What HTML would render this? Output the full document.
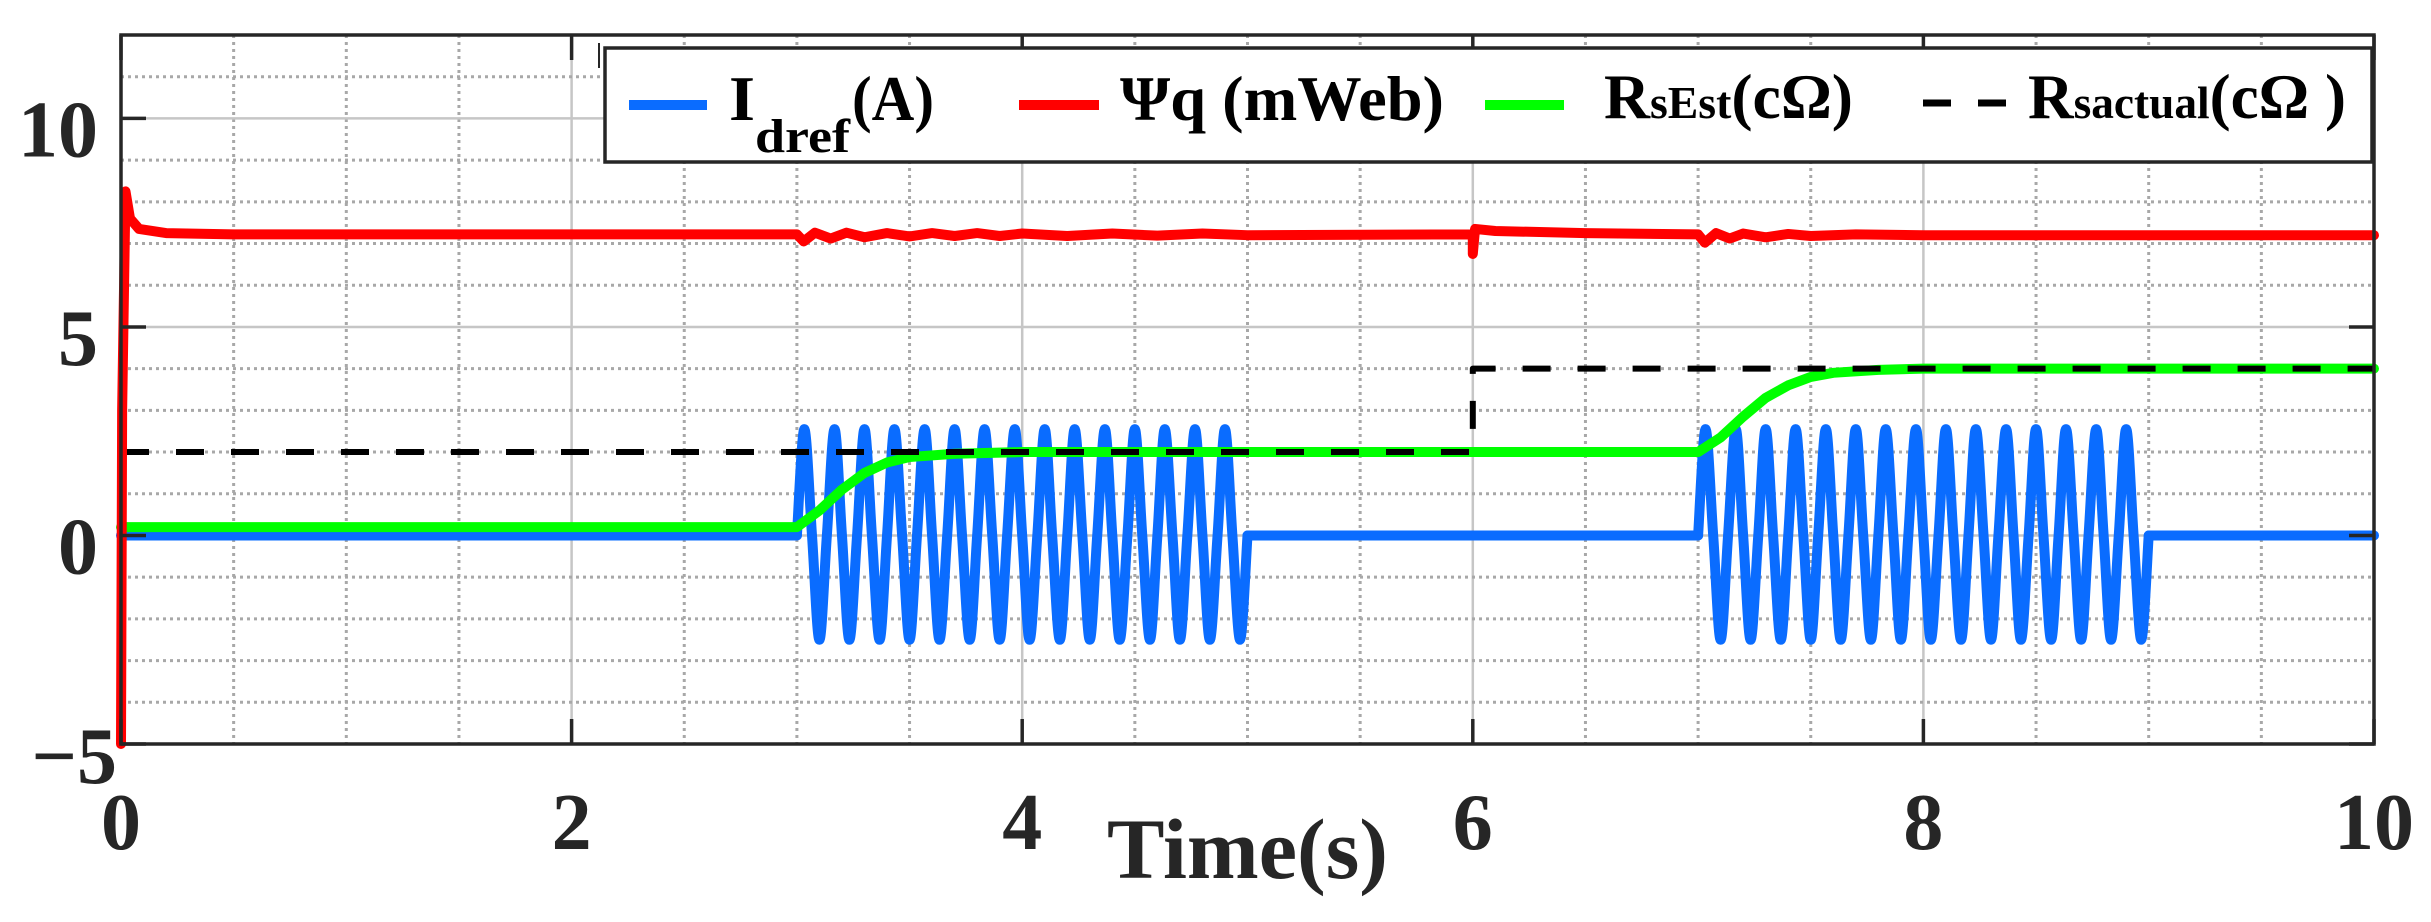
<!DOCTYPE html>
<html><head><meta charset="utf-8"><style>
html,body{margin:0;padding:0;background:#fff;}
svg{display:block;}
</style></head><body>
<svg id="chart" width="2431" height="922" viewBox="0 0 2431 922" xmlns="http://www.w3.org/2000/svg" font-family="'Liberation Serif', serif">
<g id="grid"></g>
<g id="series"></g>
<rect x="121" y="35" width="2253" height="709" fill="none" stroke="#262626" stroke-width="3.5"/>
<g id="ticks"></g>
<g id="labels" font-weight="bold" fill="#262626" font-size="80"></g>
<text x="1107" y="878" font-size="86" font-weight="bold" fill="#262626" textLength="281" lengthAdjust="spacingAndGlyphs">Time(s)</text>
<line x1="599" y1="43" x2="599" y2="68" stroke="#262626" stroke-width="2"/>
<g font-weight="bold" fill="#000">
<rect x="605" y="48" width="1767" height="114" fill="#fff" stroke="#262626" stroke-width="3.5"/>
<line x1="629" y1="105" x2="707" y2="105" stroke="#0a6cff" stroke-width="10"/>
<text x="729" y="120" font-size="64" textLength="26" lengthAdjust="spacingAndGlyphs">I</text>
<text x="755" y="152" font-size="48" textLength="95" lengthAdjust="spacingAndGlyphs">dref</text>
<text x="852" y="120" font-size="64" textLength="82" lengthAdjust="spacingAndGlyphs">(A)</text>
<line x1="1019" y1="105" x2="1099" y2="105" stroke="#ff0000" stroke-width="10"/>
<text x="1120" y="120" font-size="64" textLength="324" lengthAdjust="spacingAndGlyphs">Ψq (mWeb)</text>
<line x1="1485" y1="105" x2="1564" y2="105" stroke="#00ff00" stroke-width="10"/>
<text x="1604" y="118" font-size="64" textLength="249" lengthAdjust="spacingAndGlyphs">R<tspan font-size="46">sEst</tspan>(cΩ)</text>
<line x1="1923" y1="103" x2="2008" y2="103" stroke="#000" stroke-width="7" stroke-dasharray="28 27"/>
<text x="2028" y="118" font-size="64" textLength="318" lengthAdjust="spacingAndGlyphs">R<tspan font-size="46">sactual</tspan>(cΩ )</text>
</g>
</svg>
<script>
const xTicks = [0, 2, 4, 6, 8, 10];
const yTicks = [-5, 0, 5, 10];
const xTickLabels = ["0", "2", "4", "6", "8", "10"];
const yTickLabels = ["\u22125", "0", "5", "10"];
const rsActual = [[0,2],[6,2],[6,4],[10,4]];
const rsEst = [[0,0.2],[3,0.2],[3.1,0.6],[3.2,1.1],[3.3,1.5],[3.4,1.75],[3.5,1.88],[3.7,1.96],[4,2.0],[7,2.0],[7.1,2.35],[7.2,2.85],[7.3,3.3],[7.4,3.6],[7.5,3.8],[7.6,3.9],[7.8,3.97],[8,4],[10,4]];
const psiQ = [[0,-5],[0.005,3],[0.02,8.25],[0.04,7.6],[0.08,7.35],[0.2,7.25],[0.5,7.22],[3,7.22],[3.03,7.05],[3.08,7.26],[3.15,7.12],[3.22,7.26],[3.3,7.15],[3.4,7.25],[3.5,7.17],[3.6,7.25],[3.7,7.18],[3.8,7.25],[3.9,7.18],[4.0,7.24],[4.2,7.18],[4.4,7.24],[4.6,7.19],[4.8,7.24],[5,7.2],[6,7.22],[6.0,6.75],[6.01,7.35],[6.1,7.3],[6.5,7.25],[7,7.22],[7.03,7.02],[7.08,7.25],[7.14,7.12],[7.2,7.24],[7.3,7.15],[7.4,7.23],[7.5,7.18],[7.7,7.22],[8.0,7.2],[10,7.2]];
const idrefFlat1 = [[0,0],[3,0]];
const idrefFlat2 = [[5,0],[7,0]];
const idrefFlat3 = [[9,0],[10,0]];
const idrefBurst1 = [[3.000,0],[3.033,2.55],[3.067,0],[3.100,-2.5],[3.133,0],[3.167,2.55],[3.200,0],[3.233,-2.5],[3.267,0],[3.300,2.55],[3.333,0],[3.367,-2.5],[3.400,0],[3.433,2.55],[3.467,0],[3.500,-2.5],[3.533,0],[3.567,2.55],[3.600,0],[3.633,-2.5],[3.667,0],[3.700,2.55],[3.733,0],[3.767,-2.5],[3.800,0],[3.833,2.55],[3.867,0],[3.900,-2.5],[3.933,0],[3.967,2.55],[4.000,0],[4.033,-2.5],[4.067,0],[4.100,2.55],[4.133,0],[4.167,-2.5],[4.200,0],[4.233,2.55],[4.267,0],[4.300,-2.5],[4.333,0],[4.367,2.55],[4.400,0],[4.433,-2.5],[4.467,0],[4.500,2.55],[4.533,0],[4.567,-2.5],[4.600,0],[4.633,2.55],[4.667,0],[4.700,-2.5],[4.733,0],[4.767,2.55],[4.800,0],[4.833,-2.5],[4.867,0],[4.900,2.55],[4.933,0],[4.967,-2.5],[5.000,0]];
const idrefBurst2 = [[7.000,0],[7.033,2.55],[7.067,0],[7.100,-2.5],[7.133,0],[7.167,2.55],[7.200,0],[7.233,-2.5],[7.267,0],[7.300,2.55],[7.333,0],[7.367,-2.5],[7.400,0],[7.433,2.55],[7.467,0],[7.500,-2.5],[7.533,0],[7.567,2.55],[7.600,0],[7.633,-2.5],[7.667,0],[7.700,2.55],[7.733,0],[7.767,-2.5],[7.800,0],[7.833,2.55],[7.867,0],[7.900,-2.5],[7.933,0],[7.967,2.55],[8.000,0],[8.033,-2.5],[8.067,0],[8.100,2.55],[8.133,0],[8.167,-2.5],[8.200,0],[8.233,2.55],[8.267,0],[8.300,-2.5],[8.333,0],[8.367,2.55],[8.400,0],[8.433,-2.5],[8.467,0],[8.500,2.55],[8.533,0],[8.567,-2.5],[8.600,0],[8.633,2.55],[8.667,0],[8.700,-2.5],[8.733,0],[8.767,2.55],[8.800,0],[8.833,-2.5],[8.867,0],[8.900,2.55],[8.933,0],[8.967,-2.5],[9.000,0]];

const NS = "http://www.w3.org/2000/svg";
const X0 = 121, X1 = 2374, Y0 = 744, Y1 = 35, XMIN = 0, XMAX = 10, YMIN = -5, YMAX = 12;
function sx(t){ return X0 + (t - XMIN) / (XMAX - XMIN) * (X1 - X0); }
function sy(v){ return Y0 - (v - YMIN) / (YMAX - YMIN) * (Y0 - Y1); }
function mk(tag, parent, attrs){ const e = document.createElementNS(NS, tag); for (const k in attrs) e.setAttribute(k, attrs[k]); parent.appendChild(e); return e; }
function linPath(pts){ return pts.map((p,i)=>(i?"L":"M")+sx(p[0]).toFixed(2)+","+sy(p[1]).toFixed(2)).join(""); }
function splinePath(pts){
  const P = pts.map(p=>[sx(p[0]), sy(p[1])]);
  let d = "M"+P[0][0].toFixed(2)+","+P[0][1].toFixed(2);
  for (let i=0;i<P.length-1;i++){
    const p0 = P[Math.max(i-1,0)], p1 = P[i], p2 = P[i+1], p3 = P[Math.min(i+2,P.length-1)];
    const c1 = [p1[0]+(p2[0]-p0[0])/6, p1[1]+(p2[1]-p0[1])/6];
    const c2 = [p2[0]-(p3[0]-p1[0])/6, p2[1]-(p3[1]-p1[1])/6];
    d += "C"+c1[0].toFixed(2)+","+c1[1].toFixed(2)+" "+c2[0].toFixed(2)+","+c2[1].toFixed(2)+" "+p2[0].toFixed(2)+","+p2[1].toFixed(2);
  }
  return d;
}
const grid = document.getElementById("grid");
for (let t = 0.5; t < XMAX; t += 0.5){
  const major = Math.abs(t % 2) < 1e-9;
  const l = mk("line", grid, {x1:sx(t), x2:sx(t), y1:Y1, y2:Y0, stroke: major ? "#c6c6c6" : "#a8a8a8", "stroke-width": major ? 2.5 : 3, "stroke-dasharray": major ? "none" : "3 4"});
  
  
}
for (let v = -4; v <= 11; v += 1){
  const major = (v % 5) === 0;
  const l = mk("line", grid, {x1:X0, x2:X1, y1:sy(v), y2:sy(v), stroke: major ? "#c6c6c6" : "#a8a8a8", "stroke-width": major ? 2.5 : 3, "stroke-dasharray": major ? "none" : "3 4"});
  
  
}
const ser = document.getElementById("series");
function drawSeries(pts, color, w, name, spline, dash){
  const a = {d: spline ? splinePath(pts) : linPath(pts), fill:"none", stroke:color, "stroke-width":w, "stroke-linejoin":"round", "stroke-linecap": dash ? "butt" : "round"};
  if (dash) a["stroke-dasharray"] = dash;
  const p = mk("path", ser, a);
  
  
}
drawSeries(idrefFlat1, "#0a6cff", 10, "idref-line", false);
drawSeries(idrefFlat2, "#0a6cff", 10, "idref-line", false);
drawSeries(idrefFlat3, "#0a6cff", 10, "idref-line", false);
drawSeries(idrefBurst1, "#0a6cff", 10, "idref-oscillation", true);
drawSeries(idrefBurst2, "#0a6cff", 10, "idref-oscillation", true);
drawSeries(rsEst, "#00ff00", 10, "rs-est-line", false);
drawSeries(rsActual, "#000", 6, "rs-actual-line", false, "28 27");
drawSeries(psiQ, "#ff0000", 10, "psi-q-line", false);
const ticks = document.getElementById("ticks");
const labels = document.getElementById("labels");
xTicks.forEach((t,i)=>{
  [[Y0, Y0-25],[Y1, Y1+25]].forEach(([a,b])=>{
    const l = mk("line", ticks, {x1:sx(t), x2:sx(t), y1:a, y2:b, stroke:"#262626", "stroke-width":3.5});
    
    
  });
  const tx = mk("text", labels, {x:sx(t), y:849, "text-anchor":"middle"});
  tx.textContent = xTickLabels[i];
  
  
});
yTicks.forEach((v,i)=>{
  [[X0, X0+25],[X1, X1-25]].forEach(([a,b])=>{
    const l = mk("line", ticks, {x1:a, x2:b, y1:sy(v), y2:sy(v), stroke:"#262626", "stroke-width":3.5});
    
    
  });
  const neg = v < 0;
  const tx = mk("text", labels, {x: neg ? 117 : 98, y: sy(v) + (neg ? 39 : 38), "text-anchor":"end"});
  tx.textContent = yTickLabels[i];
  
  
});
</script>
</body></html>
